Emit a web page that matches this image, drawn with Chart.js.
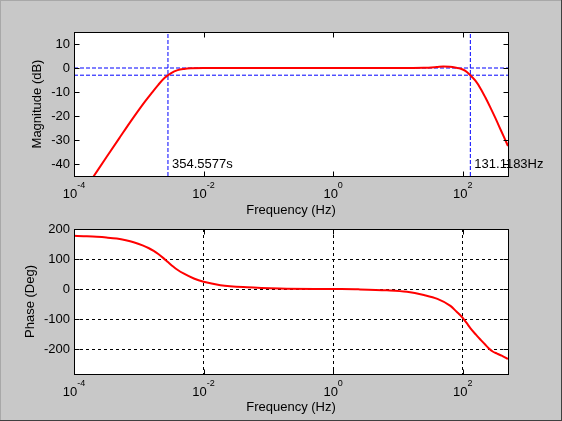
<!DOCTYPE html>
<html>
<head>
<meta charset="utf-8">
<script src="https://cdn.jsdelivr.net/npm/chart.js@4.4.1/dist/chart.umd.min.js"></script>
<style>
  html, body { margin: 0; padding: 0; }
  #fig {
    position: relative; width: 562px; height: 421px; overflow: hidden;
    background: #c8c8c8;
    box-shadow: inset -1px -1px 0 #404040, inset 1px 1px 0 #a8a8a8;
  }
  canvas { position: absolute; left: 0; }
</style>
</head>
<body>
<div id="fig">
  <canvas id="magChart" width="562" height="225" style="top:0"></canvas>
  <canvas id="phaseChart" width="562" height="206" style="top:215px"></canvas>
</div>
<script>
// values
const magFreq = [2.0e-4, 3.16e-4, 5.01e-4, 7.94e-4, 1.26e-3, 1.58e-3, 2.0e-3, 2.51e-3, 3.16e-3,
                 3.98e-3, 5.01e-3, 6.31e-3, 0.01, 10, 25.1, 39.8, 50.1, 63.1, 79.4, 93.3, 110,
                 131, 158, 188, 224, 269, 316, 363, 427, 500];
const magDb = [-45.2, -37.2, -29.2, -21.3, -13.8, -10.4, -7.0, -4.1, -2.1,
               -0.9, -0.4, -0.15, 0, 0, 0.1, 0.4, 0.6, 0.5, 0.1, -0.3, -1.2,
               -3.0, -5.4, -8.5, -12.3, -16.6, -20.6, -24.2, -28.4, -32.5];

const phaseFreq = [1e-4, 1.41e-4, 2.24e-4, 3.16e-4, 4.57e-4, 6.31e-4, 8.32e-4, 1.17e-3, 1.41e-3,
                   1.70e-3, 2.0e-3, 2.40e-3, 2.82e-3, 3.39e-3, 4.0e-3, 4.90e-3, 7.08e-3, 0.01,
                   0.0182, 0.0468, 0.151, 1, 2.45, 6.76, 13.8, 25.1, 40.7, 64.6, 80, 100, 115,
                   132, 160, 191, 220, 251, 290, 339, 400, 500];
const phaseDeg = [177.5, 176, 173.8, 171.5, 168, 162.5, 156, 144.5, 136.7,
                  127, 116.6, 103, 90, 75, 63.4, 52, 35, 24,
                  13, 6, 2, 0, -1, -4, -9, -20, -33, -56, -75, -96, -113,
                  -131, -152, -170, -184, -197, -208, -215, -222, -233];

const freqTicks = [1e-4, 1e-2, 1, 1e2];
const magTicks = [-40, -30, -20, -10, 0, 10];
const phaseTicks = [-200, -100, 0, 100, 200];

const lowCutSeconds = 354.5577;
const highCutHz = 131.1183;
const markerDb = [0, -3];

const FONT = '"Liberation Sans", Arial, sans-serif';
Chart.defaults.font.family = FONT;
Chart.defaults.font.size = 13;
Chart.defaults.color = '#000';

function pts(xs, ys) {
    return xs.map(function(x, i) { return { x: x, y: ys[i] }; });
}

// white plot box, black frame, inward ticks and 10^n labels like matlab
const axesLook = {
    id: 'axesLook',
    beforeDraw(chart) {
        const a = chart.chartArea, ctx = chart.ctx;
        ctx.save();
        ctx.fillStyle = '#fff';
        ctx.fillRect(a.left, a.top, a.right - a.left, a.bottom - a.top);
        ctx.restore();
    },
    afterDraw(chart, args, opts) {
        const ctx = chart.ctx, a = chart.chartArea;
        const xs = chart.scales.x, ys = chart.scales.y;
        ctx.save();

        (opts.notes || []).forEach(function(n) {
            ctx.font = '13px ' + FONT;
            ctx.fillStyle = '#000';
            ctx.textAlign = 'left';
            ctx.textBaseline = 'middle';
            ctx.fillText(n.text, xs.getPixelForValue(n.x) + 4, ys.getPixelForValue(n.y));
        });

        const L = Math.round(a.left) + 0.5, R = Math.round(a.right) + 0.5;
        const T = Math.round(a.top) + 0.5, B = Math.round(a.bottom) + 0.5;
        ctx.strokeStyle = '#000';
        ctx.lineWidth = 1;
        ctx.setLineDash([]);
        ctx.strokeRect(L, T, R - L, B - T);

        ctx.beginPath();
        freqTicks.forEach(function(v) {
            const p = Math.round(xs.getPixelForValue(v)) + 0.5;
            ctx.moveTo(p, B); ctx.lineTo(p, B - 5);
            ctx.moveTo(p, T); ctx.lineTo(p, T + 5);
        });
        opts.yTicks.forEach(function(v) {
            const p = Math.round(ys.getPixelForValue(v)) + 0.5;
            ctx.moveTo(L, p); ctx.lineTo(L + 5, p);
            ctx.moveTo(R, p); ctx.lineTo(R - 5, p);
        });
        ctx.stroke();

        ctx.fillStyle = '#000';
        ctx.textAlign = 'left';
        ctx.textBaseline = 'alphabetic';
        freqTicks.forEach(function(v) {
            const e = String(Math.round(Math.log10(v)));
            ctx.font = '13px ' + FONT;
            const w1 = ctx.measureText('10').width;
            ctx.font = '9px ' + FONT;
            const w2 = ctx.measureText(e).width;
            const x0 = xs.getPixelForValue(v) - (w1 + w2) / 2;
            ctx.font = '13px ' + FONT;
            ctx.fillText('10', x0, B + 21);
            ctx.font = '9px ' + FONT;
            ctx.fillText(e, x0 + w1, B + 11);
        });
        ctx.restore();
    }
};

function freqAxis(height, titlePad, gridOn) {
    return {
        type: 'logarithmic',
        min: 1e-4,
        max: 500,
        afterBuildTicks: function(s) { s.ticks = freqTicks.map(function(v) { return { value: v }; }); },
        afterFit: function(s) { s.height = height; },
        ticks: { display: false },
        grid: { display: gridOn, color: '#000', lineWidth: 1, drawTicks: false },
        border: { display: false, dash: [3, 3] },
        title: { display: true, text: 'Frequency (Hz)', padding: { top: 0, bottom: titlePad } }
    };
}

const lowCutHz = 1 / lowCutSeconds;
const blueDash = { borderColor: '#0000ff', borderWidth: 1, borderDash: [4, 2], pointRadius: 0, tension: 0 };

const magChart = new Chart(document.getElementById('magChart').getContext('2d'), {
    type: 'line',
    data: {
        datasets: [
            { data: pts(magFreq, magDb), borderColor: '#ff0000', borderWidth: 2, pointRadius: 0,
              cubicInterpolationMode: 'monotone' },
            Object.assign({ data: [{ x: 1e-4, y: markerDb[0] }, { x: 500, y: markerDb[0] }] }, blueDash),
            Object.assign({ data: [{ x: 1e-4, y: markerDb[1] }, { x: 500, y: markerDb[1] }] }, blueDash),
            Object.assign({ data: [{ x: lowCutHz, y: -45 }, { x: lowCutHz, y: 15 }] }, blueDash),
            Object.assign({ data: [{ x: highCutHz, y: -45 }, { x: highCutHz, y: 15 }] }, blueDash)
        ]
    },
    options: {
        responsive: false,
        animation: false,
        layout: { padding: { left: 0, top: 32, right: 54, bottom: 0 } },
        plugins: {
            legend: { display: false },
            tooltip: { enabled: false },
            axesLook: {
                yTicks: magTicks,
                notes: [
                    { text: lowCutSeconds.toFixed(4) + 's', x: lowCutHz, y: -40 },
                    { text: highCutHz.toFixed(4) + 'Hz', x: highCutHz, y: -40 }
                ]
            }
        },
        scales: {
            x: freqAxis(49, 7, false),
            y: {
                min: -45,
                max: 15,
                afterBuildTicks: function(s) { s.ticks = magTicks.map(function(v) { return { value: v }; }); },
                afterFit: function(s) { s.width = 74; },
                ticks: { padding: 4 },
                grid: { display: false, drawTicks: false },
                border: { display: false },
                title: { display: true, text: 'Magnitude (dB)', padding: { top: 30, bottom: 0 } }
            }
        }
    },
    plugins: [axesLook]
});

const phaseChart = new Chart(document.getElementById('phaseChart').getContext('2d'), {
    type: 'line',
    data: {
        datasets: [
            { data: pts(phaseFreq, phaseDeg), borderColor: '#ff0000', borderWidth: 2, pointRadius: 0,
              cubicInterpolationMode: 'monotone' }
        ]
    },
    options: {
        responsive: false,
        animation: false,
        layout: { padding: { left: 0, top: 14, right: 54, bottom: 0 } },
        plugins: {
            legend: { display: false },
            tooltip: { enabled: false },
            axesLook: { yTicks: phaseTicks }
        },
        scales: {
            x: freqAxis(47, 6, true),
            y: {
                min: -283,
                max: 200,
                afterBuildTicks: function(s) { s.ticks = phaseTicks.map(function(v) { return { value: v }; }); },
                afterFit: function(s) { s.width = 74; },
                ticks: { padding: 4 },
                grid: { display: true, color: '#000', lineWidth: 1, drawTicks: false },
                border: { display: false, dash: [3, 3] },
                title: { display: true, text: 'Phase (Deg)', padding: { top: 23, bottom: 0 } }
            }
        }
    },
    plugins: [axesLook]
});
</script>
</body>
</html>
